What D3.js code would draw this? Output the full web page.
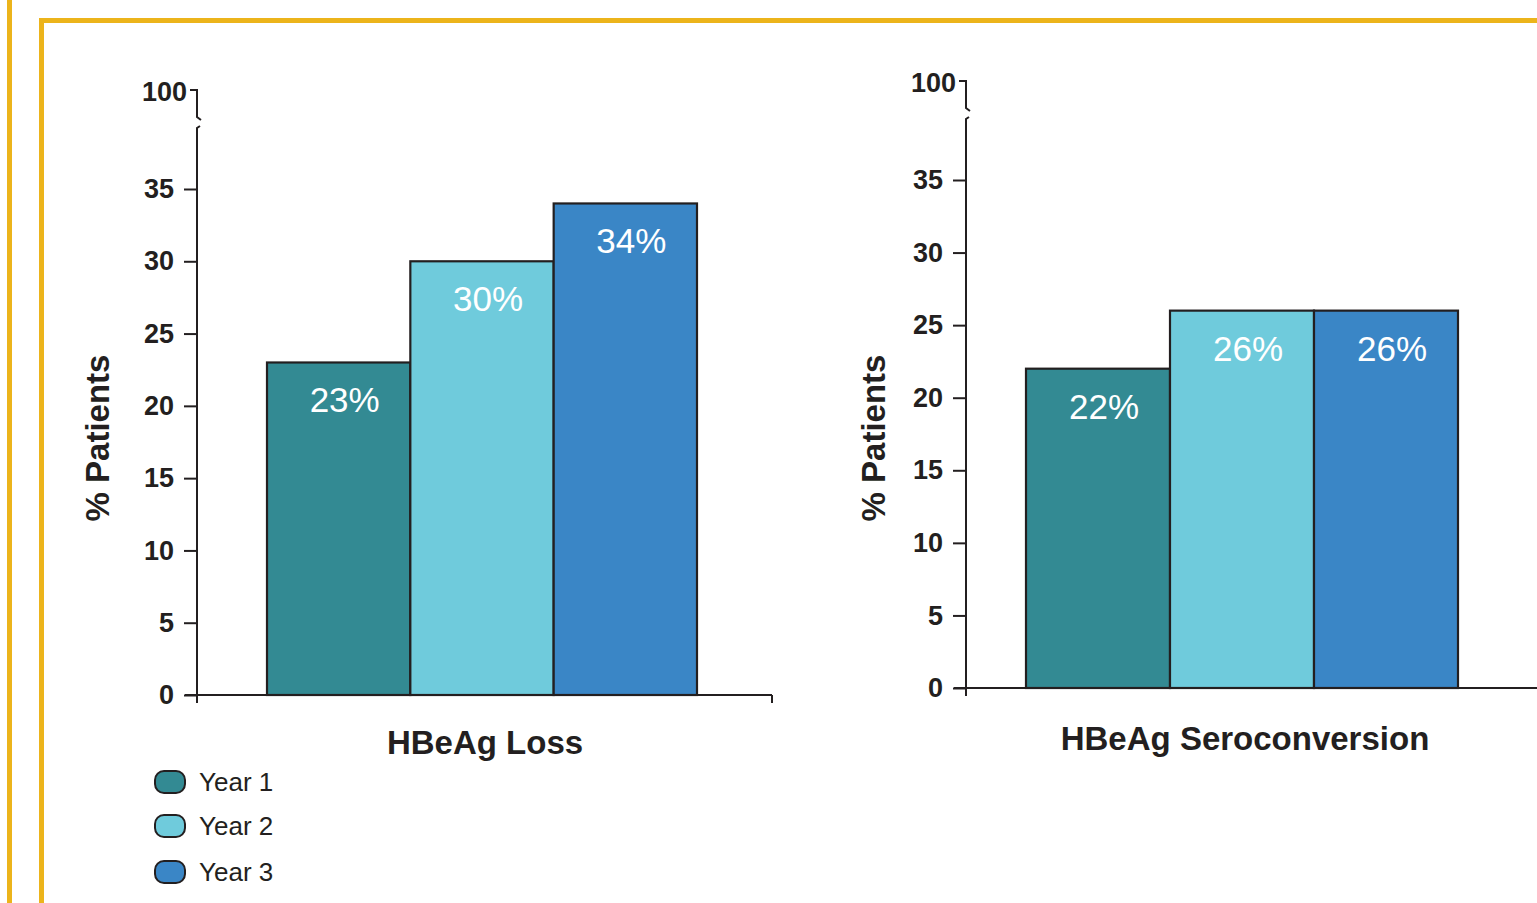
<!DOCTYPE html>
<html>
<head>
<meta charset="utf-8">
<script src="https://cdn.jsdelivr.net/npm/d3@7"></script>
<style>
  html, body { margin: 0; padding: 0; background: #fff; }
  svg { display: block; font-family: "Liberation Sans", Arial, Helvetica, sans-serif; }
</style>
</head>
<body>
<svg id="chart" width="1537" height="903"></svg>
<script>
// Data
const years = ["Year 1", "Year 2", "Year 3"];
const lossValues = [23, 30, 34];
const seroValues = [22, 26, 26];
const panelTitles = ["HBeAg Loss", "HBeAg Seroconversion"];
const yTicks = [0, 5, 10, 15, 20, 25, 30, 35];
const breakTickLabel = "100";
const yAxisTitle = "% Patients";

const colors = ["#338a93", "#6fcbdc", "#3a86c6"];
const ink = "#231f20";
const gold = "#ecb41b";

const svg = d3.select("#chart");

// Frame lines
svg.append("rect").attr("x", 7).attr("y", 0).attr("width", 5).attr("height", 903).attr("fill", gold);
svg.append("rect").attr("x", 39).attr("y", 18).attr("width", 5).attr("height", 885).attr("fill", gold);
svg.append("rect").attr("x", 39).attr("y", 18).attr("width", 1498).attr("height", 5).attr("fill", gold);

function panel(cfg) {
  const g = svg.append("g");
  const y = d3.scaleLinear().domain([0, 35]).range([cfg.y0, cfg.y35]);
  const x = d3.scaleBand().domain(years).range([cfg.barL, cfg.barR]).padding(0);
  const ax = cfg.axisX;

  // Bars
  g.selectAll("rect.bar").data(cfg.values).join("rect")
    .attr("class", "bar")
    .attr("x", (d, i) => x(years[i]))
    .attr("y", d => y(d))
    .attr("width", x.bandwidth())
    .attr("height", d => y(0) - y(d))
    .attr("fill", (d, i) => colors[i])
    .attr("stroke", ink)
    .attr("stroke-width", 2.2);

  // Value labels
  g.selectAll("text.val").data(cfg.values).join("text")
    .attr("class", "val")
    .attr("x", (d, i) => x(years[i]) + x.bandwidth() / 2 + 6)
    .attr("y", d => y(d) + 50)
    .attr("text-anchor", "middle")
    .attr("fill", "#fff")
    .attr("font-size", 35)
    .text(d => d + "%");

  // Y axis (lower segment) with ticks
  const yAxis = d3.axisLeft(y).tickValues(yTicks).tickSize(13).tickPadding(10);
  const ya = g.append("g").attr("transform", `translate(${ax},0)`).call(yAxis);
  ya.select(".domain").remove();
  ya.selectAll(".tick line").attr("stroke", ink).attr("stroke-width", 2);
  ya.selectAll(".tick text")
    .attr("fill", ink).attr("font-size", 27).attr("font-weight", "bold")
    .attr("font-family", "Liberation Sans, Arial, sans-serif");

  // Axis line with break and the 100 tick
  const tTop = y(35) - 99;
  const path = d3.path();
  path.moveTo(ax - 7, tTop); path.lineTo(ax, tTop); path.lineTo(ax, tTop + 27); path.lineTo(ax + 4, tTop + 30);
  path.moveTo(ax + 3, tTop + 36); path.lineTo(ax, tTop + 38); path.lineTo(ax, y(0) + 8);
  g.append("path").attr("d", path.toString()).attr("fill", "none").attr("stroke", ink).attr("stroke-width", 2);
  g.append("text").attr("x", ax - 10).attr("y", tTop + 2).attr("dy", "0.32em")
    .attr("text-anchor", "end").attr("fill", ink).attr("font-size", 27).attr("font-weight", "bold")
    .text(breakTickLabel);

  // X axis
  g.append("line").attr("x1", ax - 12).attr("x2", cfg.xEnd).attr("y1", y(0)).attr("y2", y(0))
    .attr("stroke", ink).attr("stroke-width", 2);
  if (cfg.endTick) {
    g.append("line").attr("x1", cfg.xEnd).attr("x2", cfg.xEnd).attr("y1", y(0)).attr("y2", y(0) + 8)
      .attr("stroke", ink).attr("stroke-width", 2);
  }

  // Titles
  g.append("text").attr("transform", `translate(${cfg.yTitleX},438) rotate(-90)`)
    .attr("text-anchor", "middle").attr("dy", "0.35em")
    .attr("fill", ink).attr("font-size", 33).attr("font-weight", "bold").text(yAxisTitle);
  g.append("text").attr("x", cfg.titleX).attr("y", cfg.titleY)
    .attr("text-anchor", "middle").attr("dy", "0.35em")
    .attr("fill", ink).attr("font-size", 33).attr("font-weight", "bold").text(cfg.title);
}

panel({ values: lossValues, title: panelTitles[0], axisX: 197, y0: 695, y35: 189,
        barL: 267, barR: 697, xEnd: 772, endTick: true, yTitleX: 97, titleX: 485, titleY: 742 });
panel({ values: seroValues, title: panelTitles[1], axisX: 966, y0: 688, y35: 180,
        barL: 1026, barR: 1458, xEnd: 1540, endTick: false, yTitleX: 873, titleX: 1245, titleY: 738 });

// Legend
const legend = svg.append("g");
const legY = [782, 826, 872];
years.forEach((name, i) => {
  legend.append("rect").attr("x", 155).attr("y", legY[i] - 11).attr("width", 30).attr("height", 22)
    .attr("rx", 9).attr("ry", 9)
    .attr("fill", colors[i]).attr("stroke", ink).attr("stroke-width", 2);
  legend.append("text").attr("x", 199).attr("y", legY[i]).attr("dy", "0.35em")
    .attr("fill", ink).attr("font-size", 26).text(name);
});
</script>
</body>
</html>
